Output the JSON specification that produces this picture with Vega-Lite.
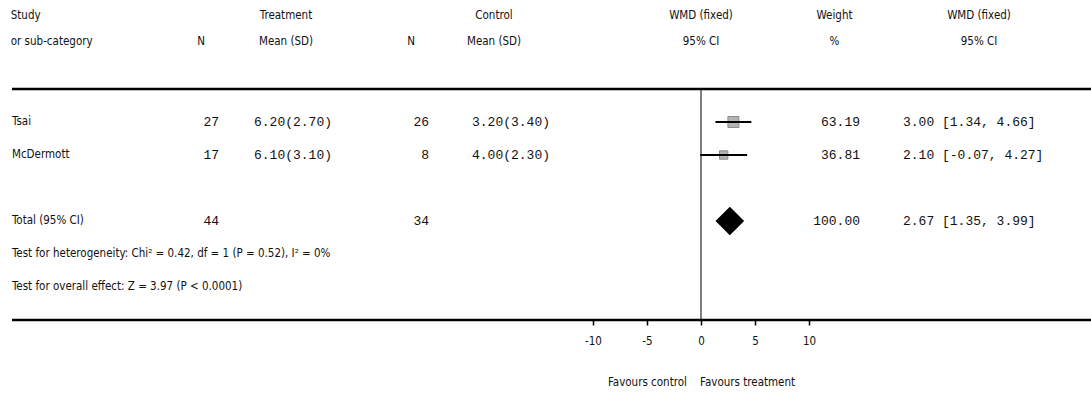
{
  "$schema": "https://vega.github.io/schema/vega-lite/v6.json",
  "background": "white",
  "padding": {"left": 10, "top": 10, "right": 0, "bottom": 0},
  "spacing": 0,
  "bounds": "flush",
  "datasets": {
    "rows": [
      {"row": "Tsai", "study": "Tsai", "tN": 27, "tMean": "6.20(2.70)", "cN": 26, "cMean": "3.20(3.40)", "wmd": 3.00, "lo": 1.34, "hi": 4.66, "weight": 63.19, "ci": "3.00 [1.34, 4.66]", "type": "study"},
      {"row": "McDermott", "study": "McDermott", "tN": 17, "tMean": "6.10(3.10)", "cN": 8, "cMean": "4.00(2.30)", "wmd": 2.10, "lo": -0.07, "hi": 4.27, "weight": 36.81, "ci": "2.10 [-0.07, 4.27]", "type": "study"},
      {"row": "Total", "study": "Total (95% CI)", "tN": 44, "cN": 34, "wmd": 2.67, "lo": 1.35, "hi": 3.99, "weight": 100.00, "ci": "2.67 [1.35, 3.99]", "type": "total"},
      {"row": "het", "study": "Test for heterogeneity: Chi² = 0.42, df = 1 (P = 0.52), I² = 0%", "type": "note"},
      {"row": "overall", "study": "Test for overall effect: Z = 3.97 (P < 0.0001)", "type": "note"}
    ],
    "lines": [{"row": "top"}, {"row": "bottom"}],
    "refline": [{"wmd": 0}]
  },
  "hconcat": [
    {
      "width": 171, "height": 231,
      "title": {"text": ["Study", "or sub-category"], "anchor": "start"},
      "layer": [
        {"data": {"name": "lines"}, "mark": {"type": "rule", "color": "#000", "strokeWidth": 2.5},
         "encoding": {"y": {"field": "row", "type": "nominal", "scale": {"type": "point", "padding": 0, "domain": ["top", "Tsai", "McDermott", "gap", "Total", "het", "overall", "bottom"]}, "axis": null}}},
        {"data": {"name": "rows"},
         "mark": {"type": "text", "align": "left", "baseline": "middle", "font": "DejaVu Sans Condensed, sans-serif", "fontSize": 11.5, "color": "#111"},
         "encoding": {
           "y": {"field": "row", "type": "nominal", "scale": {"type": "point", "padding": 0, "domain": ["top", "Tsai", "McDermott", "gap", "Total", "het", "overall", "bottom"]}, "axis": null},
           "x": {"datum": "study", "type": "nominal", "scale": {"type": "point", "padding": 0, "align": 0}, "axis": null},
           "text": {"field": "study", "type": "nominal"}}}
      ]
    },
    {
      "width": 36, "height": 231,
      "title": {"text": ["", "N"]},
      "layer": [
        {"data": {"name": "lines"}, "mark": {"type": "rule", "color": "#000", "strokeWidth": 2.5},
         "encoding": {"y": {"field": "row", "type": "nominal", "scale": {"type": "point", "padding": 0, "domain": ["top", "Tsai", "McDermott", "gap", "Total", "het", "overall", "bottom"]}, "axis": null}}},
        {"data": {"name": "rows"}, "transform": [{"filter": "datum.tN != null"}],
         "mark": {"type": "text", "align": "right", "baseline": "middle", "font": "Liberation Mono, DejaVu Sans Mono, monospace", "fontSize": 13, "color": "#111"},
         "encoding": {
           "y": {"field": "row", "type": "nominal", "scale": {"type": "point", "padding": 0, "domain": ["top", "Tsai", "McDermott", "gap", "Total", "het", "overall", "bottom"]}, "axis": null},
           "x": {"datum": "tN", "type": "nominal", "scale": {"type": "point", "padding": 0, "align": 1}, "axis": null},
           "text": {"field": "tN", "type": "quantitative", "format": "d"}}}
      ]
    },
    {
      "width": 148, "height": 231,
      "title": {"text": ["Treatment", "Mean (SD)"], "dx": -7},
      "layer": [
        {"data": {"name": "lines"}, "mark": {"type": "rule", "color": "#000", "strokeWidth": 2.5},
         "encoding": {"y": {"field": "row", "type": "nominal", "scale": {"type": "point", "padding": 0, "domain": ["top", "Tsai", "McDermott", "gap", "Total", "het", "overall", "bottom"]}, "axis": null}}},
        {"data": {"name": "rows"}, "transform": [{"filter": "datum.tMean != null"}],
         "mark": {"type": "text", "align": "center", "baseline": "middle", "font": "Liberation Mono, DejaVu Sans Mono, monospace", "fontSize": 13, "color": "#111"},
         "encoding": {
           "y": {"field": "row", "type": "nominal", "scale": {"type": "point", "padding": 0, "domain": ["top", "Tsai", "McDermott", "gap", "Total", "het", "overall", "bottom"]}, "axis": null},
           "text": {"field": "tMean", "type": "nominal"}}}
      ]
    },
    {
      "width": 62, "height": 231,
      "title": {"text": ["", "N"], "dx": 13},
      "layer": [
        {"data": {"name": "lines"}, "mark": {"type": "rule", "color": "#000", "strokeWidth": 2.5},
         "encoding": {"y": {"field": "row", "type": "nominal", "scale": {"type": "point", "padding": 0, "domain": ["top", "Tsai", "McDermott", "gap", "Total", "het", "overall", "bottom"]}, "axis": null}}},
        {"data": {"name": "rows"}, "transform": [{"filter": "datum.cN != null"}],
         "mark": {"type": "text", "align": "right", "baseline": "middle", "font": "Liberation Mono, DejaVu Sans Mono, monospace", "fontSize": 13, "color": "#111"},
         "encoding": {
           "y": {"field": "row", "type": "nominal", "scale": {"type": "point", "padding": 0, "domain": ["top", "Tsai", "McDermott", "gap", "Total", "het", "overall", "bottom"]}, "axis": null},
           "x": {"datum": "cN", "type": "nominal", "scale": {"type": "point", "padding": 0, "align": 1}, "axis": null},
           "text": {"field": "cN", "type": "quantitative", "format": "d"}}}
      ]
    },
    {
      "width": 164, "height": 231,
      "title": {"text": ["Control", "Mean (SD)"], "dx": -17},
      "layer": [
        {"data": {"name": "lines"}, "mark": {"type": "rule", "color": "#000", "strokeWidth": 2.5},
         "encoding": {"y": {"field": "row", "type": "nominal", "scale": {"type": "point", "padding": 0, "domain": ["top", "Tsai", "McDermott", "gap", "Total", "het", "overall", "bottom"]}, "axis": null}}},
        {"data": {"name": "rows"}, "transform": [{"filter": "datum.cMean != null"}],
         "mark": {"type": "text", "align": "center", "baseline": "middle", "font": "Liberation Mono, DejaVu Sans Mono, monospace", "fontSize": 13, "color": "#111"},
         "encoding": {
           "y": {"field": "row", "type": "nominal", "scale": {"type": "point", "padding": 0, "domain": ["top", "Tsai", "McDermott", "gap", "Total", "het", "overall", "bottom"]}, "axis": null},
           "text": {"field": "cMean", "type": "nominal"}}}
      ]
    },
    {
      "width": 216, "height": 231,
      "title": {"text": ["WMD (fixed)", "95% CI"]},
      "layer": [
        {"data": {"name": "lines"}, "mark": {"type": "rule", "color": "#000", "strokeWidth": 2.5},
         "encoding": {"y": {"field": "row", "type": "nominal", "scale": {"type": "point", "padding": 0, "domain": ["top", "Tsai", "McDermott", "gap", "Total", "het", "overall", "bottom"]}, "axis": null}}},
        {"data": {"name": "refline"}, "mark": {"type": "rule", "color": "#000", "strokeWidth": 1},
         "encoding": {"x": {"field": "wmd", "type": "quantitative", "scale": {"domain": [-10, 10], "nice": false, "zero": false},
           "axis": {"values": [-10, -5, 0, 5, 10], "labelExpr": "datum.value", "domain": false, "grid": false, "ticks": true, "tickSize": 5, "tickColor": "#000", "tickWidth": 1.5, "tickOpacity": 1, "labelPadding": 10, "labelFont": "DejaVu Sans Condensed, sans-serif", "labelFontSize": 11.5, "labelColor": "#111", "labelFlush": false,
             "title": "Favours control\u00a0\u00a0\u00a0\u00a0Favours treatment", "titleFont": "DejaVu Sans Condensed, sans-serif", "titleFontSize": 11.5, "titleFontWeight": "normal", "titleColor": "#111", "titlePadding": 30}}}},
        {"data": {"name": "rows"}, "transform": [{"filter": "datum.type === 'study'"}],
         "mark": {"type": "point", "shape": "square", "filled": true, "color": "#b4b4b4", "stroke": "#8a8a8a", "strokeWidth": 1, "opacity": 1},
         "encoding": {
           "x": {"field": "wmd", "type": "quantitative"},
           "y": {"field": "row", "type": "nominal", "scale": {"type": "point", "padding": 0, "domain": ["top", "Tsai", "McDermott", "gap", "Total", "het", "overall", "bottom"]}, "axis": null},
           "size": {"field": "weight", "type": "quantitative", "scale": {"domain": [0, 100], "range": [0, 190]}, "legend": null}}},
        {"data": {"name": "rows"}, "transform": [{"filter": "datum.type === 'study'"}],
         "mark": {"type": "rule", "color": "#000", "strokeWidth": 2},
         "encoding": {
           "x": {"field": "lo", "type": "quantitative"},
           "x2": {"field": "hi"},
           "y": {"field": "row", "type": "nominal", "scale": {"type": "point", "padding": 0, "domain": ["top", "Tsai", "McDermott", "gap", "Total", "het", "overall", "bottom"]}, "axis": null}}},
        {"data": {"name": "rows"}, "transform": [{"filter": "datum.type === 'total'"}],
         "mark": {"type": "point", "shape": "diamond", "filled": true, "color": "#000", "size": 820, "opacity": 1},
         "encoding": {
           "x": {"field": "wmd", "type": "quantitative"},
           "y": {"field": "row", "type": "nominal", "scale": {"type": "point", "padding": 0, "domain": ["top", "Tsai", "McDermott", "gap", "Total", "het", "overall", "bottom"]}, "axis": null}}}
      ]
    },
    {
      "width": 51, "height": 231,
      "title": {"text": ["Weight", "%"]},
      "layer": [
        {"data": {"name": "lines"}, "mark": {"type": "rule", "color": "#000", "strokeWidth": 2.5},
         "encoding": {"y": {"field": "row", "type": "nominal", "scale": {"type": "point", "padding": 0, "domain": ["top", "Tsai", "McDermott", "gap", "Total", "het", "overall", "bottom"]}, "axis": null}}},
        {"data": {"name": "rows"}, "transform": [{"filter": "datum.weight != null"}],
         "mark": {"type": "text", "align": "right", "baseline": "middle", "font": "Liberation Mono, DejaVu Sans Mono, monospace", "fontSize": 13, "color": "#111"},
         "encoding": {
           "y": {"field": "row", "type": "nominal", "scale": {"type": "point", "padding": 0, "domain": ["top", "Tsai", "McDermott", "gap", "Total", "het", "overall", "bottom"]}, "axis": null},
           "x": {"datum": "weight", "type": "nominal", "scale": {"type": "point", "padding": 0, "align": 1}, "axis": null},
           "text": {"field": "weight", "type": "quantitative", "format": ".2f"}}}
      ]
    },
    {
      "width": 43, "height": 231,
      "data": {"name": "lines"},
      "mark": {"type": "rule", "color": "#000", "strokeWidth": 2.5},
      "encoding": {"y": {"field": "row", "type": "nominal", "scale": {"type": "point", "padding": 0, "domain": ["top", "Tsai", "McDermott", "gap", "Total", "het", "overall", "bottom"]}, "axis": null}}
    },
    {
      "width": 190, "height": 231,
      "title": {"text": ["WMD (fixed)", "95% CI"], "dx": -19},
      "layer": [
        {"data": {"name": "lines"}, "mark": {"type": "rule", "color": "#000", "strokeWidth": 2.5},
         "encoding": {"y": {"field": "row", "type": "nominal", "scale": {"type": "point", "padding": 0, "domain": ["top", "Tsai", "McDermott", "gap", "Total", "het", "overall", "bottom"]}, "axis": null}}},
        {"data": {"name": "rows"}, "transform": [{"filter": "datum.ci != null"}],
         "mark": {"type": "text", "align": "left", "baseline": "middle", "font": "Liberation Mono, DejaVu Sans Mono, monospace", "fontSize": 13, "color": "#111"},
         "encoding": {
           "y": {"field": "row", "type": "nominal", "scale": {"type": "point", "padding": 0, "domain": ["top", "Tsai", "McDermott", "gap", "Total", "het", "overall", "bottom"]}, "axis": null},
           "x": {"datum": "ci", "type": "nominal", "scale": {"type": "point", "padding": 0, "align": 0}, "axis": null},
           "text": {"field": "ci", "type": "nominal"}}}
      ]
    }
  ],
  "config": {
    "view": {"stroke": null},
    "title": {"font": "DejaVu Sans Condensed, sans-serif", "fontSize": 11.5, "fontWeight": "normal", "color": "#111", "lineHeight": 26, "offset": 40, "anchor": "middle"}
  }
}
